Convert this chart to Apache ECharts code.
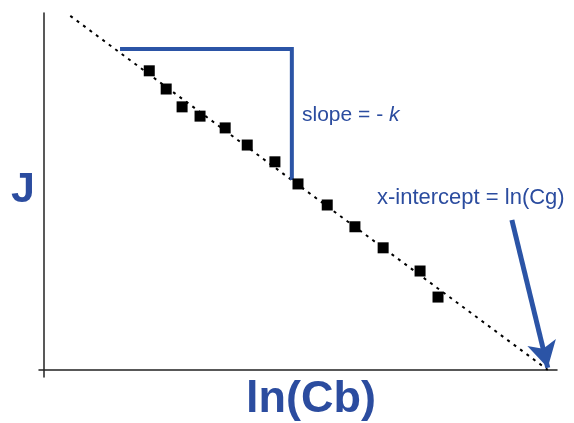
<!DOCTYPE html>
<html>
<head>
<meta charset="utf-8">
<script src="https://cdn.jsdelivr.net/npm/echarts@6/dist/echarts.min.js"></script>
<style>html,body{margin:0;padding:0;background:#fff;}#c{width:574px;height:423px;}</style>
</head>
<body>
<div id="c"></div>
<script>
// Data (arbitrary units: x = ln(Cb), y = J)
const pointsX = [20.5, 23.8, 26.9, 30.4, 35.3, 39.6, 45.0, 49.5, 55.2, 60.6, 66.1, 73.3, 76.8];
const pointsY = [83.8, 78.7, 73.7, 71.1, 67.8, 63.0, 58.3, 52.1, 46.2, 40.1, 34.2, 27.7, 20.4];
const fitX = [5.1, 98.2];
const fitY = [99.2, 0];
const slopeX = [14.8, 48.3, 48.3];
const slopeY = [89.9, 89.9, 53.2];
const arrowX = [91.2, 98.2];
const arrowY = [42.0, 0.6];
const xLabel = 'ln(Cb)';
const yLabel = 'J';
const slopeText = 'slope = - ';
const slopeVar = 'k';
const interceptText = 'x-intercept = ln(Cg)';

const blue = '#2b54a6';
const textBlue = '#2b4c9f';
const zip = (a, b) => a.map((v, i) => [v, b[i]]);

const chart = echarts.init(document.getElementById('c'));
chart.setOption({
  animation: false,
  grid: { left: 39, right: 17, top: 13, bottom: 46 },
  xAxis: {
    type: 'value', min: -1, max: 100,
    axisLine: { onZero: true, lineStyle: { color: '#222', width: 1.5 } },
    axisTick: { show: false }, axisLabel: { show: false }, splitLine: { show: false }
  },
  yAxis: {
    type: 'value', min: -2, max: 100,
    axisLine: { show: true, onZero: true, lineStyle: { color: '#222', width: 1.5 } },
    axisTick: { show: false }, axisLabel: { show: false }, splitLine: { show: false }
  },
  series: [
    {
      type: 'line', data: zip(fitX, fitY), symbol: 'none', silent: true,
      lineStyle: { color: '#000', width: 2, type: [3, 5] }, z: 1
    },
    {
      type: 'line', data: zip(slopeX, slopeY), symbol: 'none', silent: true,
      lineStyle: { color: blue, width: 4, join: 'miter' }, z: 2
    },
    {
      type: 'scatter', data: zip(pointsX, pointsY), symbol: 'rect', symbolSize: 11,
      itemStyle: { color: '#000', opacity: 1 }, z: 3
    },
    {
      type: 'line', data: [], symbol: 'none',
      markLine: {
        silent: true, symbol: ['none', 'arrow'], symbolSize: [22, 26],
        label: { show: false },
        lineStyle: { color: blue, width: 5, type: 'solid' },
        data: [[{ coord: [arrowX[0], arrowY[0]] }, { coord: [arrowX[1], arrowY[1]] }]]
      }
    }
  ],
  graphic: [
    {
      type: 'text', x: 311, y: 377,
      style: { text: xLabel, font: 'bold 45px "Liberation Sans", Arial, sans-serif', fill: textBlue, align: 'center' }
    },
    {
      type: 'text', x: 23, y: 190,
      style: { text: yLabel, font: 'bold 43px "Liberation Sans", Arial, sans-serif', fill: textBlue, align: 'center', verticalAlign: 'middle' }
    },
    {
      type: 'text', x: 302, y: 115,
      style: {
        text: '{a|' + slopeText + '}{b|' + slopeVar + '}',
        verticalAlign: 'middle',
        rich: {
          a: { font: '21px "Liberation Sans", Arial, sans-serif', fill: textBlue },
          b: { font: 'italic 21px "Liberation Sans", Arial, sans-serif', fill: textBlue }
        }
      }
    },
    {
      type: 'text', x: 377, y: 198,
      style: { text: interceptText, font: '22px "Liberation Sans", Arial, sans-serif', fill: textBlue, verticalAlign: 'middle' }
    }
  ]
});
</script>
</body>
</html>
